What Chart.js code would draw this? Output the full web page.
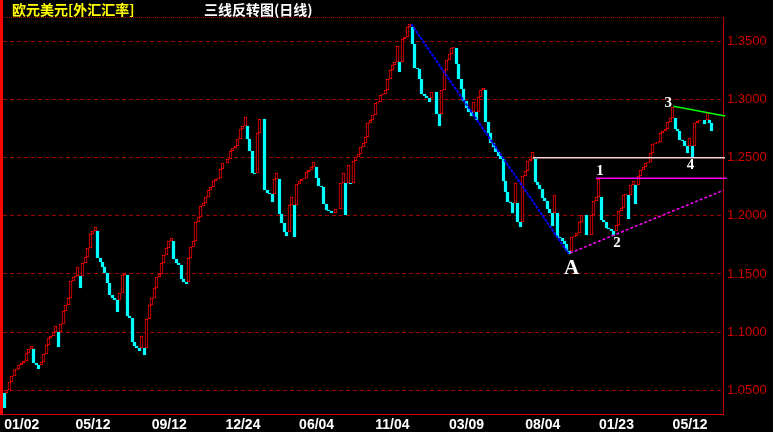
<!DOCTYPE html>
<html>
<head>
<meta charset="utf-8">
<script src="https://cdn.jsdelivr.net/npm/chart.js@4.4.1/dist/chart.umd.min.js"></script>
<style>
  html, body { margin: 0; padding: 0; background: #000; }
  #wrap { position: relative; width: 773px; height: 432px; overflow: hidden; background: #000; }
  #leftbar { position: absolute; left: 0; top: 0; width: 3px; height: 415px; background: #ff0000; }
  .ttl { position: absolute; top: 1px; font: bold 14px "Noto Sans CJK SC", sans-serif; line-height: 16px; white-space: nowrap; }
</style>
</head>
<body>
<div id="wrap">
  <canvas id="chartSanXian" width="773" height="432"></canvas>
  <div id="leftbar"></div>
  <div class="ttl" style="left:12px;color:#ffff00">欧元美元[外汇汇率]</div>
  <div class="ttl" style="left:204px;color:#ffffff">三线反转图(日线)</div>
</div>
<script>
// dates shown under the axis, and the brick where each one sits
const dateLabels = ["01/02", "05/12", "09/12", "12/24", "06/04", "11/04", "03/09", "08/04", "01/23", "05/12"]
const dateBricks = [0, 29, 60, 90, 120, 151, 181, 212, 242, 272]
const slotCount = 293

// closing value of every three-line-break brick, left to right
const firstOpen = 1.048
const closes = [
  1.035, 1.050, 1.0575, 1.062, 1.067, 1.0685, 1.072, 1.0733, 1.0755, 1.082,
  1.0857, 1.088, 1.0733, 1.0713, 1.068, 1.0745, 1.081, 1.0886, 1.095, 1.097,
  1.100, 1.105, 1.087, 1.107, 1.118, 1.123, 1.129, 1.144, 1.147, 1.148,
  1.156, 1.138, 1.159, 1.165, 1.172, 1.184, 1.187, 1.190, 1.1637, 1.160,
  1.156, 1.151, 1.1425, 1.132, 1.129, 1.1275, 1.117, 1.134, 1.149, 1.151,
  1.114, 1.112, 1.0915, 1.088, 1.086, 1.084, 1.097, 1.080, 1.111, 1.123,
  1.129, 1.138, 1.147, 1.150, 1.159, 1.166, 1.172, 1.178, 1.181, 1.163,
  1.159, 1.158, 1.146,
  1.143, 1.141, 1.164, 1.173, 1.178, 1.195, 1.199, 1.208, 1.211, 1.216,
  1.222, 1.225, 1.230, 1.2318, 1.2325, 1.240, 1.245, 1.2456, 1.2487, 1.2556,
  1.2584, 1.260, 1.266, 1.2745, 1.277, 1.285, 1.266, 1.256, 1.237, 1.2356,
  1.271, 1.283, 1.2836, 1.222, 1.220, 1.219, 1.212, 1.232, 1.2365, 1.2016,
  1.194, 1.186, 1.1825, 1.209, 1.216, 1.1815, 1.227, 1.230, 1.2315, 1.2322,
  1.2373, 1.2395, 1.242, 1.246, 1.2326, 1.2257, 1.225, 1.210, 1.205, 1.204,
  1.2028, 1.2022, 1.2056, 1.206, 1.228, 1.2372, 1.2005, 1.244, 1.2274, 1.2475,
  1.2503, 1.2527,
  1.259, 1.2625, 1.2675, 1.280, 1.2825, 1.287, 1.297, 1.2975, 1.304, 1.305,
  1.308, 1.318, 1.3256, 1.330, 1.332, 1.3457, 1.3233, 1.352, 1.3537, 1.362,
  1.3646, 1.3474, 1.3267, 1.326, 1.318, 1.305, 1.3027, 1.301, 1.2975, 1.306,
  1.3066, 1.2877, 1.2768, 1.3078, 1.3256, 1.334, 1.3388, 1.344, 1.345, 1.3307,
  1.3175, 1.309, 1.2986, 1.293, 1.2889, 1.286, 1.2975, 1.2825, 1.302, 1.3078,
  1.3095, 1.281, 1.271, 1.263, 1.259, 1.255, 1.251, 1.249, 1.2303, 1.2206,
  1.212, 1.2114, 1.2028, 1.228, 1.1947, 1.1907, 1.2338, 1.2384, 1.247, 1.249,
  1.255, 1.229, 1.2263, 1.223,
  1.2154, 1.213, 1.2056, 1.2022, 1.191, 1.218, 1.182, 1.181, 1.178, 1.176,
  1.1695, 1.167, 1.1815, 1.1827, 1.1855, 1.1945, 1.2005, 1.201, 1.1838, 1.1832,
  1.201, 1.213, 1.216, 1.232, 1.196, 1.1947, 1.1896, 1.1884, 1.1867, 1.1838,
  1.1925, 1.2043, 1.2066, 1.218, 1.2186, 1.197, 1.2263, 1.2298, 1.2102, 1.2338,
  1.2395, 1.2418, 1.2453, 1.2464, 1.2539, 1.2619, 1.2625, 1.2631, 1.271, 1.2733,
  1.275, 1.2808, 1.2843, 1.2934, 1.275, 1.2728, 1.2653, 1.2642, 1.2602, 1.2544,
  1.2665, 1.2504, 1.2797, 1.2814, 1.282, 1.2826, 1.2785, 1.2883, 1.2797, 1.2733
]

const yTicks = [1.05, 1.10, 1.15, 1.20, 1.25, 1.30, 1.35]
const yMin = 1.0296
const yMax = 1.3709

// drawn trend lines, [brick, value] at each end
const lineTrendDown = [[165.7, 1.3646], [229.7, 1.1674]]
const lineTrendUp = [[230.3, 1.1680], [292.7, 1.2219]]
const lineLevel1 = [[240.8, 1.2322], [294.0, 1.2322]]
const lineLevel125 = [[215.1, 1.25], [293.3, 1.25]]
const lineTop3 = [[272.3, 1.2941], [293.4, 1.2858]]

// marks written on the chart
const markTexts = ["A", "1", "2", "3", "4"]
const markBricks = [230.9, 242.4, 249.4, 270.2, 279.3]
const markValues = [1.1547, 1.2381, 1.1769, 1.2972, 1.2437]

// three line break: same direction starts at the last close, a reversal at the last open
const opens = []
const ups = []
for (let i = 0; i < closes.length; i++) {
    if (i == 0) {
        opens.push(firstOpen)
        ups.push(closes[0] > firstOpen)
        continue
    }
    const up = closes[i] > closes[i - 1]
    opens.push(up == ups[i - 1] ? closes[i - 1] : opens[i - 1])
    ups.push(up)
}

const slots = []
for (let i = 0; i < slotCount; i++) slots.push(i)

const narrow = '"Liberation Sans Narrow", "Liberation Sans", sans-serif'

// snap the bricks on whole pixels so the thin red outlines stay sharp
const snapBricks = {
    id: 'snapBricks',
    beforeDatasetsDraw(chart) {
        const meta = chart.getDatasetMeta(0)
        meta.data.forEach(el => {
            el.x = Math.round(el.x - 0.5) + 0.5
            el.y = Math.round(el.y)
            el.base = Math.round(el.base)
        })
    }
}

const overlay = {
    id: 'overlay',
    afterDatasetsDraw(chart) {
        const {ctx, chartArea, scales} = chart
        const x = scales.x, y = scales.y
        ctx.save()

        // fine dotted frame line on top
        ctx.strokeStyle = '#a00000'
        ctx.lineWidth = 1
        ctx.setLineDash([1, 1])
        ctx.beginPath()
        ctx.moveTo(chartArea.left, chartArea.top + 0.5)
        ctx.lineTo(chartArea.right, chartArea.top + 0.5)
        ctx.stroke()

        const drawLine = (pts, color, width, dash) => {
            ctx.strokeStyle = color
            ctx.lineWidth = width
            ctx.setLineDash(dash)
            ctx.beginPath()
            ctx.moveTo(x.getPixelForValue(pts[0][0]), y.getPixelForValue(pts[0][1]))
            ctx.lineTo(x.getPixelForValue(pts[1][0]), y.getPixelForValue(pts[1][1]))
            ctx.stroke()
        }
        drawLine(lineLevel125, '#ffd0d0', 1.5, [])
        drawLine(lineLevel1, '#ff00ff', 1.5, [])
        drawLine(lineTrendUp, '#ff00ff', 1.5, [3, 2])
        drawLine(lineTrendDown, '#0000ff', 2, [3, 1])
        drawLine(lineTop3, '#00ff00', 1.5, [])

        ctx.setLineDash([])
        ctx.fillStyle = '#ffffff'
        ctx.textAlign = 'center'
        ctx.textBaseline = 'middle'
        for (let i = 0; i < markTexts.length; i++) {
            ctx.font = i == 0 ? 'bold 21px "Liberation Serif", serif' : 'bold 15px "Liberation Serif", serif'
            ctx.fillText(markTexts[i], x.getPixelForValue(markBricks[i]), y.getPixelForValue(markValues[i]))
        }
        ctx.restore()
    }
}

const data = {
    labels: slots,
    datasets: [
        {
            data: closes.map((c, i) => [opens[i], c]),
            backgroundColor: ups.map(u => u ? '#000000' : '#00ffff'),
            borderColor: ups.map(u => u ? '#ff0000' : '#00ffff'),
            borderWidth: 1,
            borderSkipped: false,
            barThickness: 3
        }
    ]
}

const config = {
    type: 'bar',
    data: data,
    options: {
        responsive: false,
        animation: false,
        devicePixelRatio: 1,
        layout: { padding: { left: 3, top: 17, right: 0, bottom: 0 } },
        plugins: {
            legend: { display: false },
            tooltip: { enabled: false },
            title: { display: false }
        },
        scales: {
            x: {
                afterFit: s => { s.height = 18 },
                grid: { display: false, drawTicks: false },
                border: { display: true, color: '#d00000', width: 1 },
                ticks: {
                    autoSkip: false,
                    maxRotation: 0,
                    minRotation: 0,
                    align: 'start',
                    padding: 3,
                    color: '#ffffff',
                    font: { family: narrow, size: 14, weight: 'bold' },
                    callback: (v, i) => {
                        const k = dateBricks.indexOf(i)
                        return k >= 0 ? dateLabels[k] : ''
                    }
                }
            },
            y: {
                position: 'right',
                min: yMin,
                max: yMax,
                afterFit: s => { s.width = 50 },
                afterBuildTicks: s => { s.ticks = yTicks.map(v => ({value: v})) },
                grid: { color: '#a00000', lineWidth: 1, drawTicks: false },
                border: { display: true, color: '#c00000', width: 1, dash: [4, 3] },
                ticks: {
                    padding: 4,
                    color: '#d00000',
                    font: { family: narrow, size: 13 },
                    callback: v => Number(v).toFixed(4)
                }
            }
        }
    },
    plugins: [snapBricks, overlay]
}

const myChart = new Chart(document.getElementById('chartSanXian'), config)
</script>
</body>
</html>
